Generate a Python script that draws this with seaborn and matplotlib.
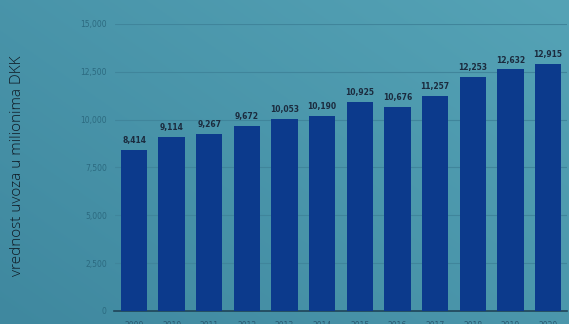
import numpy as np
import pandas as pd
import matplotlib
matplotlib.use("Agg")
import matplotlib.pyplot as plt
import seaborn as sns

# Annual import value, millions of DKK
years = ["2009", "2010", "2011", "2012", "2013", "2014", "2015", "2016",
         "2017", "2018", "2019", "2020"]
values = [8414, 9114, 9267, 9672, 10053, 10190, 10925, 10676,
          11257, 12253, 12632, 12915]
y_ticks = [0, 2500, 5000, 7500, 10000, 12500, 15000]
y_label = "vrednost uvoza u milionima DKK"

df = pd.DataFrame({"year": years, "value": values})

sns.set_theme(style="white")
plt.rcParams["font.family"] = ["DejaVu Sans"]

fig = plt.figure(figsize=(5.69, 3.24), dpi=100)

# soft teal gradient backdrop
bg = fig.add_axes([0, 0, 1, 1], zorder=-10)
yy, xx = np.mgrid[0:1:200j, 0:1:300j]
t = 0.55 * xx + 0.45 * yy
c0 = np.array([0x3f, 0x88, 0x9f]) / 255
c1 = np.array([0x55, 0xa3, 0xb6]) / 255
img = c0[None, None, :] * (1 - t[..., None]) + c1[None, None, :] * t[..., None]
bg.imshow(img, aspect="auto", extent=[0, 1, 0, 1], origin="lower")
bg.set_axis_off()

ax = fig.add_axes([115.2 / 569, 13 / 324, (566.8 - 115.2) / 569, (311 - 24) / 324])
ax.patch.set_alpha(0)

sns.barplot(data=df, x="year", y="value", color="#0c3a8c", width=0.7,
            saturation=1, linewidth=0, ax=ax, zorder=3)

ax.set_ylim(0, 15000)
ax.set_xlim(-0.5, len(years) - 0.5)
ax.set_yticks(y_ticks)
ax.set_yticklabels([f"{v:,}" for v in y_ticks], fontsize=5.5, color="#2c6a80")
ax.set_xticks(range(len(years)))
ax.set_xticklabels(years, fontsize=5.5, color="#2a5a72")
ax.tick_params(axis="both", length=0, pad=6)
ax.tick_params(axis="x", pad=7)

for v in y_ticks[1:]:
    ax.axhline(v, color="#40859b", lw=0.8, zorder=1)

for s in ["top", "right", "left"]:
    ax.spines[s].set_visible(False)
ax.spines["bottom"].set_color("#1f4458")
ax.spines["bottom"].set_linewidth(1.2)
ax.spines["bottom"].set_bounds(-0.53, len(years) - 0.5)

for i, v in enumerate(values):
    ax.text(i, v + 250, f"{v:,}", ha="center", va="bottom", fontsize=5.5,
            fontweight="bold", color="#1b2b3e", zorder=4)

ax.set_xlabel("")
ax.set_ylabel("")
fig.text(18 / 569, 1 - 166 / 324, y_label, rotation=90, ha="center", va="center",
         fontsize=11, color="#0f1a24", fontweight="light",
         family=["Open Sans", "DejaVu Sans"])

fig.savefig("out.png", dpi=100)
